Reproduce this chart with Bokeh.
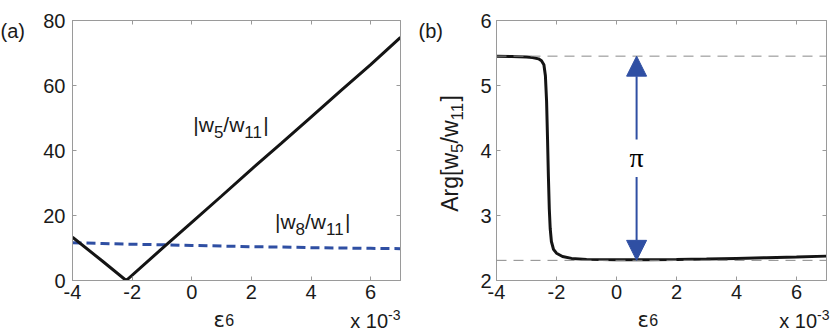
import math
from bokeh.plotting import figure
from bokeh.models import Range1d, FixedTicker, LinearAxis, Label, Span, Arrow, NormalHead
from bokeh.layouts import row, column
from bokeh.embed import file_html
from bokeh.resources import INLINE

# ---------------- data ----------------
eps_a = [-4, -3, -2.2, -1, 0, 1, 2, 3, 4, 5, 6, 7]
w5_w11 = [13.3, 6.0, 0.0, 9.8, 17.9, 26.0, 34.2, 42.2, 50.3, 58.4, 66.4, 74.8]
w8_w11 = [11.6, 11.4, 11.2, 11.0, 10.8, 10.6, 10.4, 10.3, 10.1, 10.0, 9.9, 9.8]

eps_b = [-4, -3.5, -3, -2.8, -2.6, -2.5, -2.42, -2.37, -2.33, -2.3, -2.27, -2.24,
         -2.21, -2.17, -2.1, -2.0, -1.8, -1.5, -1, 0, 1, 2, 3, 4, 5, 6, 7]
arg_w5_w11 = [5.45, 5.447, 5.44, 5.43, 5.41, 5.38, 5.32, 5.15, 4.75, 4.2, 3.6, 3.1,
              2.8, 2.6, 2.48, 2.42, 2.37, 2.34, 2.325, 2.318, 2.318, 2.323, 2.33,
              2.34, 2.35, 2.36, 2.375]

x_ticks = [-4, -2, 0, 2, 4, 6]
x_tick_labels = ["-4", "-2", "0", "2", "4", "6"]
ya_ticks = [0, 20, 40, 60, 80]
ya_tick_labels = ["0", "20", "40", "60", "80"]
yb_ticks = [2, 3, 4, 5, 6]
yb_tick_labels = ["2", "3", "4", "5", "6"]

x_limits = (-4, 7)
ya_limits = (0, 80)
yb_limits = (2, 6)

phase_low = 2.31
phase_high = phase_low + math.pi
arrow_x = 0.67
pi_gap = 0.29

# ---------------- style ----------------
SANS = "Liberation Sans"
SERIF = "Liberation Serif"
GREEK = "DejaVu Sans"
ASC = {SANS: 0.905, SERIF: 0.891, GREEK: 0.928}
TXT = "#1a1a1a"
FRAME = "#9a9a9a"
BLACK = "#141414"
BLUE = "#2f4fa3"
TOP_H = 307      # height of the row holding the two panels
BOT_H = 26       # strip below holding the axis titles

ADV = {'|': 0.26, 'w': 0.722, '/': 0.278, '0': 0.556, '1': 0.556, '2': 0.556,
       '3': 0.556, '4': 0.556, '5': 0.556, '6': 0.556, '8': 0.556, 'A': 0.667,
       'r': 0.333, 'g': 0.556, '[': 0.278, ']': 0.278, 'x': 0.5, ' ': 0.278,
       '-': 0.333, '(': 0.333, ')': 0.333, 'a': 0.556, 'b': 0.556, 'ε': 0.56}


def adv(s, size):
    return sum(ADV.get(c, 0.556) for c in s) * size


def text_at(p, x, y, t, size, font, x_off=0.0, y_off=0.0, angle=0.0, align="left",
            color=TXT):
    """Place text so that its baseline sits at (x, y) + offsets (offsets: px, up positive).
    Labels are anchored at the top of their text box, so shift by the font ascent."""
    asc = ASC[font] * size
    if angle == 0:
        xo, yo = x_off, y_off + asc
    else:  # rotated 90 deg counter-clockwise: text 'down' is screen +x
        xo, yo = x_off - asc, y_off
    p.add_layout(Label(x=x, y=y, text=t, text_font=font, text_font_size=f"{size}px",
                       text_color=color, text_align=align, text_baseline="top",
                       angle=angle, x_offset=xo, y_offset=yo))


def rich(p, x, y, pieces, x_off=0, y_off=0, angle=0.0, align="left"):
    total = sum(adv(t, s) for t, s, _, _ in pieces)
    a = {"left": 0, "center": -total / 2, "right": -total}[align]
    for t, s, shift, font in pieces:
        if angle == 0:
            text_at(p, x, y, t, s, font, x_off=x_off + a, y_off=y_off + shift)
        else:
            text_at(p, x, y, t, s, font, x_off=x_off - shift, y_off=y_off + a, angle=angle)
        a += adv(t, s)


def make_fig(width, ylim, yticks, ylabels, bl, br, ystand):
    p = figure(width=width, height=TOP_H, x_range=Range1d(*x_limits), y_range=Range1d(*ylim),
               output_backend="svg", toolbar_location=None, title=None,
               min_border_left=bl, min_border_right=br, min_border_top=20, min_border_bottom=27)
    p.grid.visible = False
    p.outline_line_color = FRAME
    p.border_fill_color = "white"
    p.background_fill_color = "white"
    xa = p.xaxis[0]
    ya = p.yaxis[0]
    xa.ticker = FixedTicker(ticks=x_ticks)
    xa.major_label_overrides = dict(zip(x_ticks, x_tick_labels))
    ya.ticker = FixedTicker(ticks=yticks)
    ya.major_label_overrides = dict(zip(yticks, ylabels))
    for ax in (xa, ya):
        ax.axis_line_color = FRAME
        ax.major_tick_line_color = FRAME
        ax.major_tick_in = 4
        ax.major_tick_out = 0
        ax.minor_tick_line_color = None
        ax.major_label_text_font = SANS
        ax.major_label_text_font_size = "20px"
        ax.major_label_text_color = TXT
    xa.major_label_standoff = 4
    ya.major_label_standoff = ystand
    for loc, t in (("above", x_ticks), ("right", yticks)):
        ax = LinearAxis(ticker=FixedTicker(ticks=t), major_label_text_font_size="1px",
                        major_label_text_color=None, major_label_standoff=0,
                        major_tick_in=4, major_tick_out=0,
                        axis_line_color=FRAME, major_tick_line_color=FRAME,
                        minor_tick_line_color=None)
        p.add_layout(ax, loc)
    return p


def strip(width, height):
    # text-only area; its ranges are in pixels, y growing downwards
    s = figure(width=width, height=height, x_range=Range1d(0, width), y_range=Range1d(height, 0),
               output_backend="svg", toolbar_location=None, min_border=0, title=None,
               x_axis_location=None, y_axis_location=None)
    s.grid.visible = False
    s.outline_line_color = None
    s.border_fill_color = "white"
    s.background_fill_color = "white"
    return s


# ---------------- panel (a) ----------------
sa_left = strip(40, TOP_H)
text_at(sa_left, 0, 21, "(a)", 20, SANS)

pa = make_fig(370, ya_limits, ya_ticks, ya_tick_labels, 31, 10, 7)
pa.line(eps_a, w8_w11, line_color=BLUE, line_width=3, line_dash="9 5")
pa.line(eps_a, w5_w11, line_color=BLACK, line_width=3)
rich(pa, 0.05, 45.8, [("|w", 21, 0, SANS), ("5", 17, -10, SANS), ("/w", 21, 0, SANS),
                      ("11", 17, -10, SANS), ("|", 21, 0, SANS)])
rich(pa, 2.79, 15.9, [("|w", 21, 0, SANS), ("8", 17, -10, SANS), ("/w", 21, 0, SANS),
                      ("11", 17, -10, SANS), ("|", 21, 0, SANS)])

sa_bot = strip(410, BOT_H)
rich(sa_bot, 213, 20, [("ε", 21, 0, GREEK), ("6", 16, -1, SANS)])
rich(sa_bot, 400, 21, [("x 10", 20, 0, SANS), ("-3", 14, 6, SANS)], align="right")

# ---------------- panel (b) ----------------
sb_left = strip(66, TOP_H)
text_at(sb_left, 8, 21, "(b)", 20, SANS)
rich(sb_left, 47, 157, [("Arg[w", 23, 0, SANS), ("5", 17, -9, SANS), ("/w", 23, 0, SANS),
                        ("11", 17, -9, SANS), ("]", 23, 0, SANS)],
     angle=math.pi / 2, align="center")

pb = make_fig(354, yb_limits, yb_ticks, yb_tick_labels, 20, 4, 5)
for loc in (phase_low, phase_high):
    pb.add_layout(Span(location=loc, dimension="width", line_color="#8a8a8a",
                       line_width=1, line_dash="10 7"))
pb.line(eps_b, arg_w5_w11, line_color=BLACK, line_width=3)
pi_y = (phase_low + phase_high) / 2
pb.add_layout(Arrow(x_start=arrow_x, y_start=pi_y + pi_gap, x_end=arrow_x, y_end=phase_high,
                    start=None, end=NormalHead(size=20, fill_color=BLUE, line_color=BLUE),
                    line_color=BLUE, line_width=2))
pb.add_layout(Arrow(x_start=arrow_x, y_start=pi_y - pi_gap, x_end=arrow_x, y_end=phase_low,
                    start=None, end=NormalHead(size=20, fill_color=BLUE, line_color=BLUE),
                    line_color=BLUE, line_width=2))
# glyph centre of the pi sits ~0.23 em above its baseline
text_at(pb, arrow_x, pi_y, "π", 28, SERIF, y_off=-0.23 * 28 - 2, align="center",
        color="#000000")

sb_bot = strip(420, BOT_H)
rich(sb_bot, 227, 20, [("ε", 21, 0, GREEK), ("6", 16, -1, SANS)])
rich(sb_bot, 419, 21, [("x 10", 20, 0, SANS), ("-3", 14, 6, SANS)], align="right")

layout = column(row(sa_left, pa, sb_left, pb), row(sa_bot, sb_bot))
open("out.html", "w").write(file_html(layout, INLINE))
